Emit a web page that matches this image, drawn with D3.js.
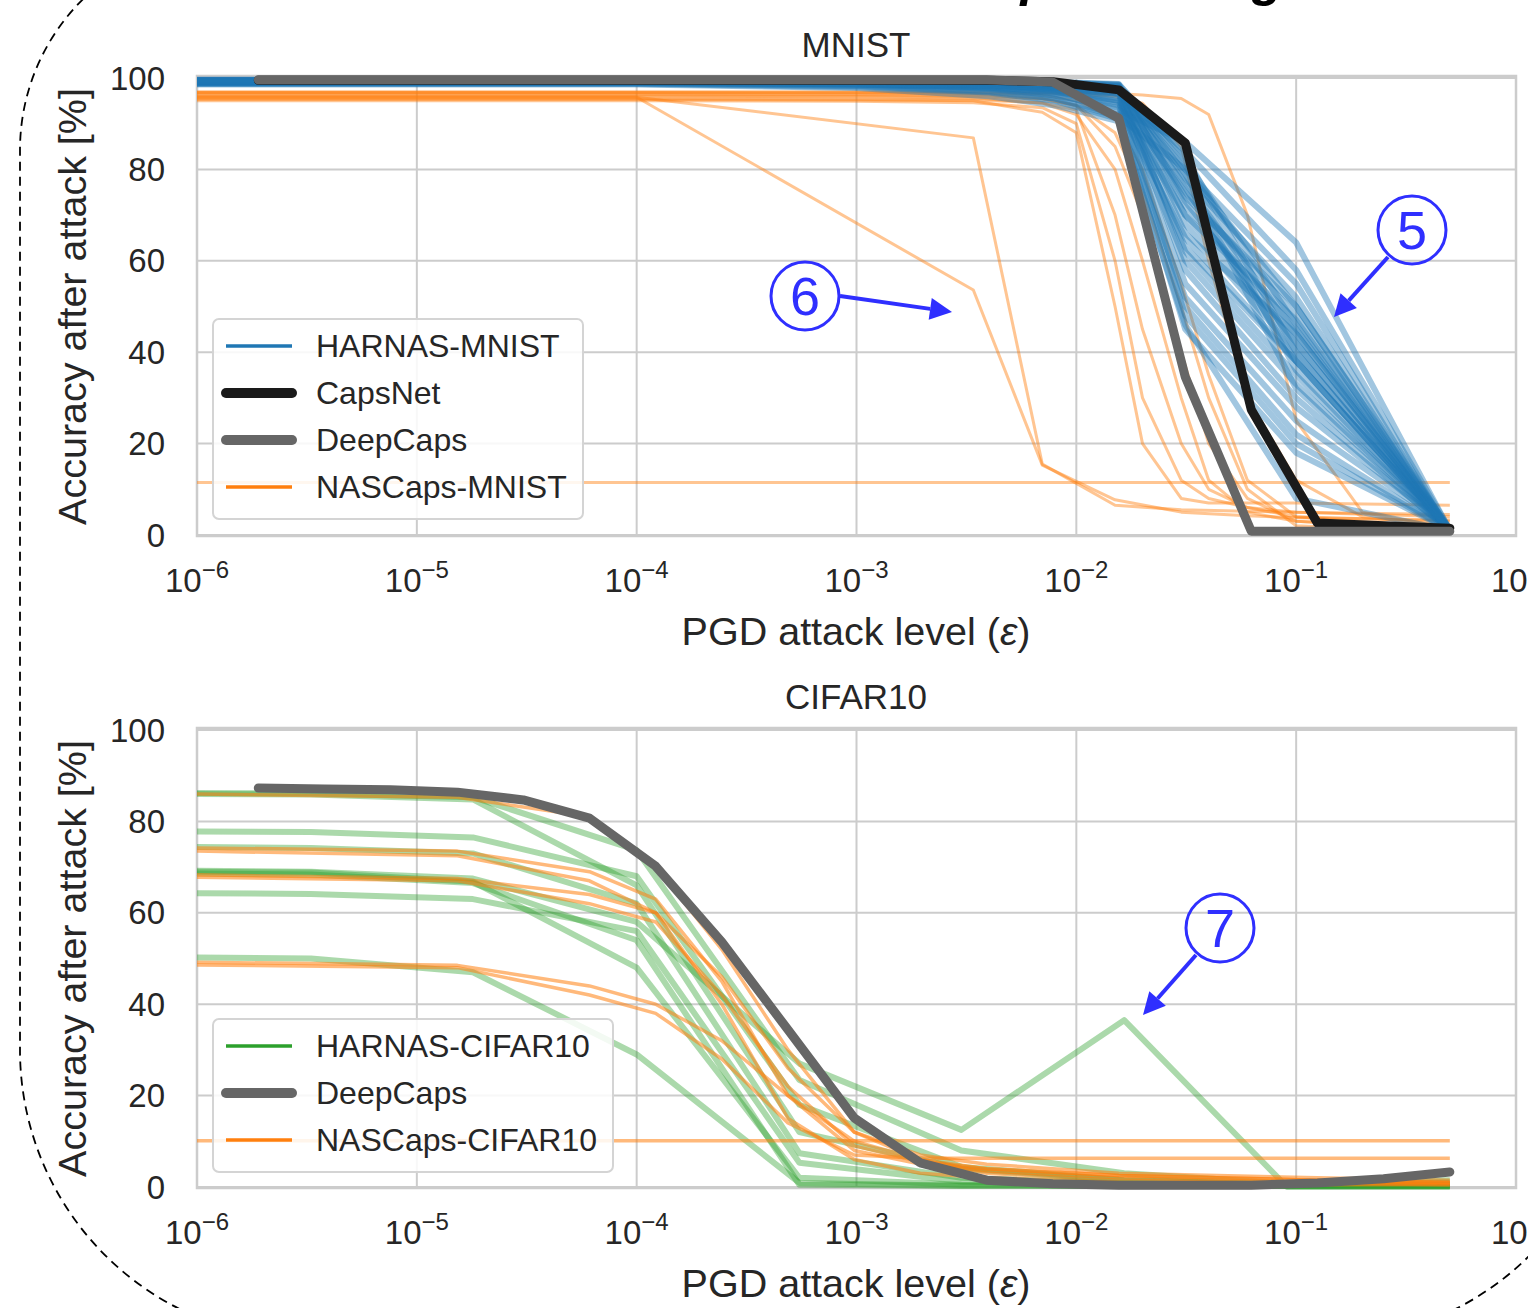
<!DOCTYPE html>
<html>
<head>
<meta charset="utf-8">
<script src="https://cdn.jsdelivr.net/npm/d3@7"></script>
<style>
body { margin: 0; background: #fff; }
svg { display: block; font-family: "Liberation Sans", Arial, sans-serif; }
</style>
</head>
<body>
<svg id="chart" width="1528" height="1308"></svg>
<script>
// attack levels (eps) used by the reference models, powers of two
const epsDeep = [1.9e-6, 3.8e-6, 7.6e-6, 1.53e-5, 3.05e-5, 6.1e-5, 1.22e-4, 2.44e-4, 4.88e-4, 9.77e-4,
	1.95e-3, 3.91e-3, 7.81e-3, 1.56e-2, 3.13e-2, 6.25e-2, 0.125, 0.25, 0.5]

const capsNetMnist = [99.5, 99.5, 99.5, 99.5, 99.5, 99.5, 99.5, 99.5, 99.5, 99.5, 99.5, 99.5, 99.2, 97.4, 85.8, 27.4, 2.6, 2.0, 1.5]
const deepCapsMnist = [99.6, 99.6, 99.6, 99.6, 99.6, 99.6, 99.6, 99.6, 99.6, 99.6, 99.6, 99.6, 99.1, 91.2, 34.6, 0.8, 0.8, 0.8, 0.8]
const deepCapsCifar = [87.3, 87.1, 86.9, 86.4, 84.7, 80.7, 70.2, 53.6, 34.4, 15.1, 5.3, 1.5, 0.7, 0.4, 0.4, 0.4, 0.9, 1.8, 3.3]

// HARNAS-MNIST
const harnasMnistEps = [1e-6, 1e-4, 1e-3, 4e-3, 8e-3, 1.56e-2, 3.13e-2, 0.1, 0.5]
const harnasMnist = [
	[99.0, 99.0, 98.6, 97.8, 96.5, 93.0, 86.0, 64.0, 1.0],
	[99.2, 99.2, 99.0, 98.6, 98.0, 96.5, 84.0, 58.0, 1.2],
	[98.8, 98.8, 98.3, 97.2, 95.5, 91.5, 80.0, 55.0, 0.8],
	[99.4, 99.4, 99.2, 99.0, 98.7, 98.0, 78.0, 52.0, 1.0],
	[99.1, 99.1, 98.8, 98.2, 97.3, 95.0, 75.0, 48.0, 1.3],
	[99.5, 99.5, 99.4, 99.2, 99.0, 98.6, 72.0, 45.0, 0.7],
	[99.0, 99.0, 98.7, 98.0, 97.0, 94.5, 70.0, 42.0, 1.0],
	[99.3, 99.3, 99.1, 98.8, 98.4, 97.5, 68.0, 40.0, 0.9],
	[98.9, 98.9, 98.5, 97.6, 96.2, 93.5, 65.0, 38.0, 1.1],
	[99.4, 99.4, 99.3, 99.0, 98.6, 97.8, 62.0, 35.0, 0.8],
	[99.1, 99.1, 98.9, 98.3, 97.5, 95.5, 60.0, 33.0, 1.0],
	[99.5, 99.5, 99.3, 99.1, 98.8, 98.2, 58.0, 30.0, 0.6],
	[99.0, 99.0, 98.6, 97.9, 96.8, 94.0, 55.0, 28.0, 1.2],
	[98.7, 98.7, 98.0, 96.8, 95.0, 91.0, 52.0, 25.0, 1.5],
	[99.2, 99.2, 99.0, 98.5, 97.8, 96.5, 50.0, 22.0, 0.9],
	[99.0, 99.0, 98.7, 98.0, 97.0, 95.0, 48.0, 20.0, 1.0],
	[98.8, 98.8, 98.2, 97.0, 95.5, 92.0, 45.0, 18.0, 1.1],
	[99.3, 99.3, 99.1, 98.7, 98.3, 97.5, 74.0, 50.0, 0.7],
	[99.1, 99.1, 98.8, 98.4, 97.8, 96.8, 66.0, 44.0, 1.0],
	[98.6, 98.6, 97.8, 96.0, 94.0, 90.5, 46.0, 8.0, 1.0],
	[99.0, 99.0, 98.7, 98.3, 97.6, 96.5, 63.0, 38.0, 0.9],
	[99.2, 99.2, 98.9, 98.5, 97.9, 97.0, 70.0, 47.0, 1.0],
	[99.6, 99.6, 99.5, 99.3, 99.0, 98.5, 83.0, 40.0, 0.8],
	[99.4, 99.4, 99.2, 99.0, 98.5, 97.8, 81.0, 36.0, 1.0],
	[99.5, 99.5, 99.4, 99.1, 98.8, 98.2, 79.0, 32.0, 0.9],
	[99.3, 99.3, 99.1, 98.8, 98.2, 97.2, 77.0, 44.0, 1.1],
	[99.6, 99.6, 99.5, 99.3, 99.1, 98.7, 82.0, 46.0, 0.7],
	[99.4, 99.4, 99.3, 99.0, 98.6, 97.9, 76.0, 38.0, 1.0],
	[99.5, 99.5, 99.4, 99.2, 98.9, 98.4, 73.0, 42.0, 0.8],
	[99.3, 99.3, 99.2, 98.9, 98.4, 97.6, 80.0, 50.0, 1.2]
]

// NASCaps-MNIST (null = no sample at that eps)
const nascapsMnistEps = [1e-6, 1e-4, 1e-3, 3.4e-3, 7e-3, 1e-2, 1.5e-2, 2e-2, 3e-2, 4e-2, 6e-2, 0.1, 0.2, 0.5]
const nascapsMnist = [
	[11.5, 11.5, 11.5, 11.5, 11.5, 11.5, 11.5, 11.5, 11.5, 11.5, 11.5, 11.5, 11.5, 11.5],
	[95.8, 95.8, null, 86.9, 15.5, null, 6.5, null, 5.5, null, 5.2, 5.0, null, 4.5],
	[95.8, 95.8, null, 53.6, 15.3, null, 7.7, null, 5.0, null, 4.2, 3.8, null, 3.3],
	[96.0, 96.0, 95.9, 95.6, 94.5, 92.0, 80.0, 60.0, 30.0, 12.0, 5.0, 3.0, null, 1.5],
	[96.5, 96.5, 96.4, 96.2, 95.5, 94.0, 85.0, 70.0, 40.0, 20.0, 8.0, 3.0, null, 1.0],
	[95.5, 95.5, 95.4, 95.2, 94.6, 93.0, 70.0, 45.0, 20.0, 10.0, 6.0, 5.0, null, 4.0],
	[96.8, 96.8, 96.7, 96.5, 96.2, 95.0, 91.0, 80.0, 55.0, 35.0, 12.0, 4.0, null, 1.5],
	[96.2, 96.2, 96.1, 95.9, 95.4, 94.0, 88.0, 75.0, 50.0, 30.0, 10.0, 2.0, null, 0.5],
	[97.0, 97.0, 97.0, 97.0, 96.8, 96.8, 96.6, 96.3, 95.5, 92.0, 70.0, 25.0, 5.0, 1.5],
	[96.8, 96.8, 96.8, 96.7, 96.6, 96.4, 96.0, 94.5, 85.0, 60.0, 30.0, 12.0, 4.0, 2.0],
	[95.0, 95.0, 94.9, 94.6, 93.5, 90.0, 60.0, 30.0, 12.0, 8.0, 6.0, 4.0, null, 3.0],
	[95.3, 95.3, 95.2, 95.0, 92.5, 88.0, 50.0, 20.0, 8.0, 7.0, 7.0, 7.0, null, 6.5]
]

// HARNAS-CIFAR10
const harnasCifarEps = [1e-6, 3.3e-6, 1.8e-5, 1e-4, 5.5e-4, 3e-3, 1.65e-2, 9.1e-2, 0.5]
const harnasCifar = [
	[86.2, 86.1, 85.3, 73.7, 23.4, 8.0, 3.0, 0.8, 1.5],
	[77.8, 77.7, 76.5, 68.0, 18.0, 4.4, 1.5, 0.5, 0.5],
	[74.4, 74.2, 73.0, 62.0, 7.4, 2.0, 0.8, 0.3, 0.3],
	[69.2, 69.0, 67.5, 58.0, 27.0, 12.5, 36.5, 0.0, 0.0],
	[68.6, 68.4, 66.5, 54.0, 0.5, 0.3, 0.3, 0.3, 0.3],
	[64.3, 64.1, 63.0, 56.0, 5.3, 1.2, 0.5, 0.3, 0.3],
	[50.2, 50.0, 47.0, 29.0, 0.9, 0.3, 0.3, 0.3, 0.3],
	[86.0, 85.9, 84.8, 66.0, 12.0, 4.0, 1.5, 0.5, 1.0],
	[69.0, 68.8, 66.8, 48.0, 2.0, 0.5, 0.3, 0.3, 0.3]
]

// NASCaps-CIFAR10
const nascapsCifarEps = [1e-6, 1.53e-5, 6.1e-5, 1.22e-4, 2.44e-4, 4.88e-4, 9.77e-4, 1.95e-3, 3.91e-3, 1.56e-2, 0.125, 0.5]
const nascapsCifar = [
	[10.1, 10.1, 10.1, 10.1, 10.1, 10.1, 10.1, 10.1, 10.1, 10.1, 10.1, 10.1],
	[86.0, 85.3, 81.0, 70.0, 52.0, 30.0, 12.0, 6.0, 3.0, 1.5, 0.8, 0.5],
	[74.2, 73.5, 69.0, 63.0, 45.0, 20.0, 8.0, 5.0, 3.5, 2.0, 1.0, 0.8],
	[73.5, 72.5, 67.0, 60.0, 40.0, 15.0, 6.0, 3.0, 2.0, 1.0, 0.5, 0.5],
	[67.8, 67.0, 62.0, 58.0, 42.0, 22.0, 9.0, 5.5, 4.0, 2.5, 1.5, 1.0],
	[68.3, 67.5, 64.0, 60.0, 46.0, 26.0, 12.0, 7.0, 5.0, 3.0, 2.0, 1.5],
	[48.6, 48.0, 42.0, 38.0, 28.0, 14.0, 7.0, 6.3, 6.3, 6.3, 6.3, 6.3],
	[49.2, 48.5, 44.0, 40.0, 32.0, 20.0, 10.0, 6.0, 4.0, 2.5, 1.5, 1.0]
]

const xTickExp = [-6, -5, -4, -3, -2, -1, 0]
const yTicks = [0, 20, 40, 60, 80, 100]

const svg = d3.select('#chart')
const blue = '#1f77b4', orange = '#ff7f0e', green = '#2ca02c'
const black = '#1a1a1a', gray = '#666666', annot = '#2f2fff'
const textColor = '#262626', gridColor = '#cccccc'

const x = d3.scaleLog().domain([1e-6, 1]).range([197, 1516])

const toPoints = (eps, vals) => eps.map((e, i) => ({ e, v: vals[i] })).filter(d => d.v != null)

// dashed rounded frame around the figure (mostly outside the visible area)
svg.append('path')
	.attr('d', 'M1615,1050 A290,290 0 0 1 1325,1340 L310,1340 A290,290 0 0 1 20,1050 L20,150 A212,212 0 0 1 232,-62 L1700,-62')
	.attr('fill', 'none')
	.attr('stroke', '#000')
	.attr('stroke-width', 1.8)
	.attr('stroke-dasharray', '9 6')

// heading cut off at the top edge
svg.append('text')
	.attr('x', 905)
	.attr('y', -5)
	.attr('font-size', 52)
	.attr('font-weight', 'bold')
	.attr('font-style', 'italic')
	.attr('fill', '#000')
	.text('Comparison against')

function drawPanel(p) {
	const y = d3.scaleLinear().domain([0, 100]).range([p.bottom, p.top])
	const g = svg.append('g')
	const line = d3.line().x(d => x(d.e)).y(d => y(d.v))

	// grid
	g.selectAll('.vgrid').data(xTickExp).join('line')
		.attr('x1', d => x(Math.pow(10, d))).attr('x2', d => x(Math.pow(10, d)))
		.attr('y1', p.top - 2).attr('y2', p.bottom + 1)
		.attr('stroke', gridColor).attr('stroke-width', 2)
	g.selectAll('.hgrid').data(yTicks).join('line')
		.attr('x1', 197).attr('x2', 1516)
		.attr('y1', d => y(d)).attr('y2', d => y(d))
		.attr('stroke', gridColor).attr('stroke-width', 2)
	g.append('rect')
		.attr('x', 197).attr('y', p.top - 2)
		.attr('width', 1516 - 197).attr('height', p.bottom - p.top + 3)
		.attr('fill', 'none').attr('stroke', gridColor).attr('stroke-width', 2.5)

	// series
	p.groups.forEach(grp => {
		grp.rows.forEach(r => {
			g.append('path')
				.attr('d', line(toPoints(grp.eps, r)))
				.attr('fill', 'none')
				.attr('stroke', grp.color)
				.attr('stroke-width', grp.width)
				.attr('stroke-opacity', grp.opacity)
				.attr('stroke-linejoin', 'round')
				.attr('stroke-linecap', grp.cap || 'butt')
		})
	})

	// y tick labels
	g.selectAll('.ylab').data(yTicks).join('text')
		.attr('x', 165).attr('y', d => y(d))
		.attr('dy', '0.35em')
		.attr('text-anchor', 'end')
		.attr('font-size', 33)
		.attr('fill', textColor)
		.text(d => d)

	// x tick labels 10^k
	const xl = g.selectAll('.xlab').data(xTickExp).join('text')
		.attr('x', d => x(Math.pow(10, d))).attr('y', p.bottom + 57)
		.attr('text-anchor', 'middle')
		.attr('font-size', 33)
		.attr('fill', textColor)
	xl.append('tspan').text('10')
	xl.append('tspan').attr('dy', -14).attr('font-size', 24)
		.text(d => d === 0 ? '0' : '\u2212' + Math.abs(d))

	// axis labels and title
	g.append('text')
		.attr('x', 856).attr('y', p.bottom + 110)
		.attr('text-anchor', 'middle').attr('font-size', 39.5).attr('fill', textColor)
		.html('PGD attack level (<tspan font-style="italic">ε</tspan>)')
	g.append('text')
		.attr('transform', `translate(86, ${(p.top + p.bottom) / 2}) rotate(-90)`)
		.attr('text-anchor', 'middle').attr('font-size', 39.5).attr('fill', textColor)
		.text('Accuracy after attack [%]')
	g.append('text')
		.attr('x', 856).attr('y', p.top - 21)
		.attr('text-anchor', 'middle').attr('font-size', 35).attr('fill', textColor)
		.text(p.title)

	// legend
	const lg = g.append('g')
	lg.append('rect')
		.attr('x', p.legend.x).attr('y', p.legend.y)
		.attr('width', p.legend.w).attr('height', p.legend.items.length * 47 + 12)
		.attr('rx', 6)
		.attr('fill', '#fff').attr('fill-opacity', 0.85)
		.attr('stroke', '#d4d4d4').attr('stroke-width', 2)
	p.legend.items.forEach((it, i) => {
		const cy = p.legend.y + 27 + i * 47
		lg.append('line')
			.attr('x1', p.legend.x + 13).attr('x2', p.legend.x + 79)
			.attr('y1', cy).attr('y2', cy)
			.attr('stroke', it.color).attr('stroke-width', it.width)
			.attr('stroke-linecap', it.width > 5 ? 'round' : 'butt')
		lg.append('text')
			.attr('x', p.legend.x + 103).attr('y', cy)
			.attr('dy', '0.35em')
			.attr('font-size', 32).attr('fill', textColor)
			.text(it.label)
	})

	// circled annotations
	p.notes.forEach(n => {
		const a = g.append('g')
		a.append('ellipse')
			.attr('cx', n.cx).attr('cy', n.cy).attr('rx', 34).attr('ry', 34)
			.attr('fill', 'none').attr('stroke', annot).attr('stroke-width', 3)
		a.append('text')
			.attr('x', n.cx).attr('y', n.cy).attr('dy', '0.36em')
			.attr('text-anchor', 'middle').attr('font-size', 54).attr('fill', annot)
			.text(n.label)
		const ang = Math.atan2(n.to[1] - n.from[1], n.to[0] - n.from[0])
		const hl = 22, hw = 11
		const bx = n.to[0] - hl * Math.cos(ang), by = n.to[1] - hl * Math.sin(ang)
		a.append('line')
			.attr('x1', n.from[0]).attr('y1', n.from[1]).attr('x2', bx).attr('y2', by)
			.attr('stroke', annot).attr('stroke-width', 4)
		a.append('path')
			.attr('d', `M${n.to[0]},${n.to[1]} L${bx - hw * Math.sin(ang)},${by + hw * Math.cos(ang)} L${bx + hw * Math.sin(ang)},${by - hw * Math.cos(ang)} Z`)
			.attr('fill', annot)
	})
}

drawPanel({
	title: 'MNIST', top: 78, bottom: 535,
	groups: [
		{ eps: nascapsMnistEps, rows: nascapsMnist, color: orange, width: 3, opacity: 0.45 },
		{ eps: harnasMnistEps, rows: harnasMnist, color: blue, width: 6, opacity: 0.42 },
		{ eps: epsDeep, rows: [capsNetMnist], color: black, width: 9, opacity: 1, cap: 'round' },
		{ eps: epsDeep, rows: [deepCapsMnist], color: gray, width: 9, opacity: 1, cap: 'round' }
	],
	legend: {
		x: 213, y: 319, w: 370,
		items: [
			{ label: 'HARNAS-MNIST', color: blue, width: 3.5 },
			{ label: 'CapsNet', color: black, width: 10 },
			{ label: 'DeepCaps', color: gray, width: 10 },
			{ label: 'NASCaps-MNIST', color: orange, width: 3.5 }
		]
	},
	notes: [
		{ label: '6', cx: 805, cy: 296, from: [840, 296], to: [952, 312] },
		{ label: '5', cx: 1412, cy: 230, from: [1388, 257], to: [1334, 317] }
	]
})

drawPanel({
	title: 'CIFAR10', top: 730, bottom: 1187,
	groups: [
		{ eps: harnasCifarEps, rows: harnasCifar, color: green, width: 6, opacity: 0.4 },
		{ eps: nascapsCifarEps, rows: nascapsCifar, color: orange, width: 3.5, opacity: 0.55 },
		{ eps: epsDeep, rows: [deepCapsCifar], color: gray, width: 9, opacity: 1, cap: 'round' }
	],
	legend: {
		x: 213, y: 1019, w: 400,
		items: [
			{ label: 'HARNAS-CIFAR10', color: green, width: 3.5 },
			{ label: 'DeepCaps', color: gray, width: 10 },
			{ label: 'NASCaps-CIFAR10', color: orange, width: 3.5 }
		]
	},
	notes: [
		{ label: '7', cx: 1220, cy: 928, from: [1196, 955], to: [1143, 1015] }
	]
})
</script>
</body>
</html>
